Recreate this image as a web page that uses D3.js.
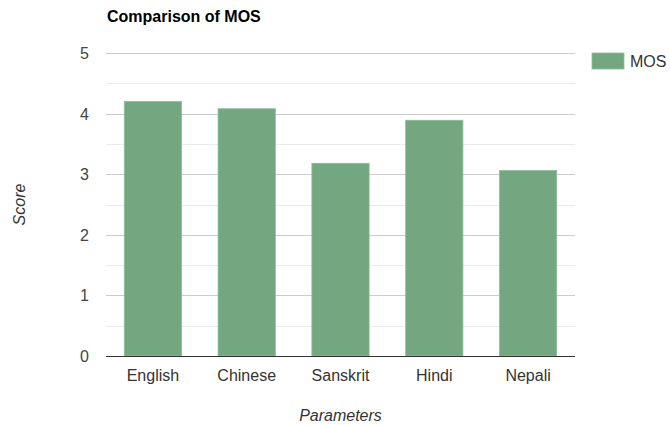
<!DOCTYPE html>
<html>
<head>
<meta charset="utf-8">
<script src="https://cdn.jsdelivr.net/npm/d3@7"></script>
<style>
  body { margin: 0; background: #fff; }
  text { font-family: "Liberation Sans", Arial, sans-serif; }
</style>
</head>
<body>
<svg width="670" height="425"></svg>
<script>
var categories = ['English', 'Chinese', 'Sanskrit', 'Hindi', 'Nepali']
var mosValues = [4.2, 4.08, 3.18, 3.89, 3.06]
var yTicks = [0, 1, 2, 3, 4, 5]
var minorTicks = [0.5, 1.5, 2.5, 3.5, 4.5]

var svg = d3.select('svg')
var plotLeft = 106, plotRight = 575, plotTop = 53, plotBottom = 356

var x = d3.scaleBand()
    .domain(categories)
    .range([plotLeft, plotRight])
    .paddingInner(0.39)
    .paddingOuter(0.195)

var y = d3.scaleLinear()
    .domain([0, 5])
    .range([plotBottom, plotTop])

// minor grid
svg.append('g').selectAll('line')
    .data(minorTicks).enter().append('line')
    .attr('x1', plotLeft).attr('x2', plotRight)
    .attr('y1', function(d){ return Math.round(y(d)) + 0.5 })
    .attr('y2', function(d){ return Math.round(y(d)) + 0.5 })
    .attr('stroke', '#ebebeb')

// major grid
svg.append('g').selectAll('line')
    .data(yTicks.slice(1)).enter().append('line')
    .attr('x1', plotLeft).attr('x2', plotRight)
    .attr('y1', function(d){ return Math.round(y(d)) + 0.5 })
    .attr('y2', function(d){ return Math.round(y(d)) + 0.5 })
    .attr('stroke', '#cccccc')

// y labels
svg.append('g').selectAll('text')
    .data(yTicks).enter().append('text')
    .attr('x', 89)
    .attr('y', function(d){ return y(d) + 6 })
    .attr('text-anchor', 'end')
    .attr('font-size', 16)
    .attr('fill', '#444')
    .text(function(d){ return d })

// bars
svg.append('g').selectAll('rect')
    .data(mosValues).enter().append('rect')
    .attr('x', function(d, i){ return x(categories[i]) })
    .attr('y', function(d){ return y(d) })
    .attr('width', x.bandwidth())
    .attr('height', function(d){ return plotBottom - y(d) })
    .attr('fill', '#73a77f')
    .attr('stroke', '#8dbb98')
    .attr('stroke-width', 0.8)

// baseline
svg.append('line')
    .attr('x1', plotLeft).attr('x2', plotRight)
    .attr('y1', plotBottom + 0.5).attr('y2', plotBottom + 0.5)
    .attr('stroke', '#333')

// x labels
svg.append('g').selectAll('text')
    .data(categories).enter().append('text')
    .attr('x', function(d){ return x(d) + x.bandwidth() / 2 })
    .attr('y', 381)
    .attr('text-anchor', 'middle')
    .attr('font-size', 16)
    .attr('fill', '#333')
    .text(function(d){ return d })

// title
svg.append('text')
    .attr('x', 107).attr('y', 22)
    .attr('font-size', 16)
    .attr('font-weight', 'bold')
    .attr('fill', '#000')
    .text('Comparison of MOS')

// axis titles
svg.append('text')
    .attr('x', (plotLeft + plotRight) / 2).attr('y', 421)
    .attr('text-anchor', 'middle')
    .attr('font-size', 16)
    .attr('font-style', 'italic')
    .attr('fill', '#333')
    .text('Parameters')

svg.append('text')
    .attr('transform', 'translate(25,' + ((plotTop + plotBottom) / 2) + ') rotate(-90)')
    .attr('text-anchor', 'middle')
    .attr('font-size', 16)
    .attr('font-style', 'italic')
    .attr('fill', '#333')
    .text('Score')

// legend
svg.append('rect')
    .attr('x', 592).attr('y', 53)
    .attr('width', 32).attr('height', 16)
    .attr('fill', '#73a77f')
    .attr('stroke', '#8dbb98')
    .attr('stroke-width', 0.8)
svg.append('text')
    .attr('x', 630).attr('y', 67)
    .attr('font-size', 16)
    .attr('fill', '#333')
    .text('MOS')
</script>
</body>
</html>
